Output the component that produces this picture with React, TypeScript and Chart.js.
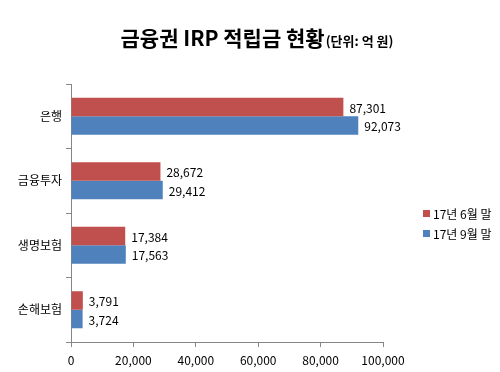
import React, { useEffect, useRef } from "react";
import { Chart, registerables } from "chart.js";

Chart.register(...registerables);

const categories = ["은행", "금융투자", "생명보험", "손해보험"];
const seriesNames = ["17년 6월 말", "17년 9월 말"];
const june = [87301, 28672, 17384, 3791];
const sept = [92073, 29412, 17563, 3724];
const colors = ["#C0504D", "#4F81BD"];
const titleMain = "금융권 IRP 적립금 현황";
const titleUnit = "(단위: 억 원)";

const FONT = "'Noto Sans CJK KR', 'Noto Sans', sans-serif";
const fmt = (v: number) => v.toLocaleString("en-US");

export default function App() {
  const ref = useRef<HTMLCanvasElement | null>(null);

  useEffect(() => {
    if (!ref.current) return;

    const extras = {
      id: "extras",
      afterDatasetsDraw(chart: any) {
        const ctx = chart.ctx;
        ctx.save();
        ctx.font = `12px ${FONT}`;
        ctx.fillStyle = "#000";
        ctx.textBaseline = "middle";
        ctx.textAlign = "left";
        chart.data.datasets.forEach((ds: any, di: number) => {
          const meta = chart.getDatasetMeta(di);
          meta.data.forEach((el: any, i: number) => {
            ctx.fillText(fmt(ds.data[i]), el.x + 6, el.y + 1);
          });
        });
        ctx.restore();
      },
      afterDraw(chart: any) {
        const ctx = chart.ctx;
        ctx.save();
        // title
        ctx.textBaseline = "alphabetic";
        ctx.fillStyle = "#000";
        ctx.font = `bold 21px ${FONT}`;
        const w1 = ctx.measureText(titleMain).width;
        ctx.font = `bold 13px ${FONT}`;
        const w2 = ctx.measureText(titleUnit).width;
        const cx = 257;
        const startX = cx - (w1 + w2 + 1) / 2;
        ctx.textAlign = "left";
        ctx.font = `bold 21px ${FONT}`;
        ctx.fillText(titleMain, startX, 46);
        ctx.font = `bold 13px ${FONT}`;
        ctx.fillText(titleUnit, startX + w1 + 1, 46);
        // legend
        ctx.font = `12px ${FONT}`;
        ctx.textBaseline = "middle";
        seriesNames.forEach((name, i) => {
          const y = 214 + i * 20;
          ctx.fillStyle = colors[i];
          ctx.fillRect(423, y - 4, 7, 7);
          ctx.fillStyle = "#000";
          ctx.fillText(name, 433, y);
        });
        ctx.restore();
      },
    };

    const chart = new Chart(ref.current, {
      type: "bar",
      data: {
        labels: categories,
        datasets: [
          { label: seriesNames[0], data: june, backgroundColor: colors[0] },
          { label: seriesNames[1], data: sept, backgroundColor: colors[1] },
        ],
      },
      options: {
        indexAxis: "y",
        animation: false,
        responsive: false,
        categoryPercentage: 0.574,
        barPercentage: 1,
        layout: { padding: { top: 84, right: 117, left: 0, bottom: 0 } },
        plugins: {
          legend: { display: false },
          title: { display: false },
          tooltip: { enabled: false },
        },
        scales: {
          x: {
            min: 0,
            max: 100000,
            ticks: {
              stepSize: 20000,
              callback: (v: any) => fmt(Number(v)),
              font: { family: FONT, size: 12 },
              color: "#000",
              padding: 6,
              maxRotation: 0,
            },
            grid: {
              drawOnChartArea: false,
              drawTicks: true,
              tickLength: 5,
              color: "#868686",
            },
            border: { color: "#868686" },
            afterFit: (s: any) => {
              s.height = 30;
            },
          },
          y: {
            ticks: {
              font: { family: FONT, size: 12 },
              color: "#000",
              padding: 4,
            },
            grid: {
              offset: true,
              drawOnChartArea: false,
              drawTicks: true,
              tickLength: 5,
              color: "#868686",
            },
            border: { color: "#868686" },
            afterFit: (s: any) => {
              s.width = 71;
            },
          },
        },
      },
      plugins: [extras],
    } as any);

    return () => chart.destroy();
  }, []);

  return (
    <div style={{ position: "absolute", left: 0, top: 0, width: 500, height: 372, background: "#fff" }}>
      <canvas ref={ref} width={500} height={372} style={{ display: "block" }} />
    </div>
  );
}
